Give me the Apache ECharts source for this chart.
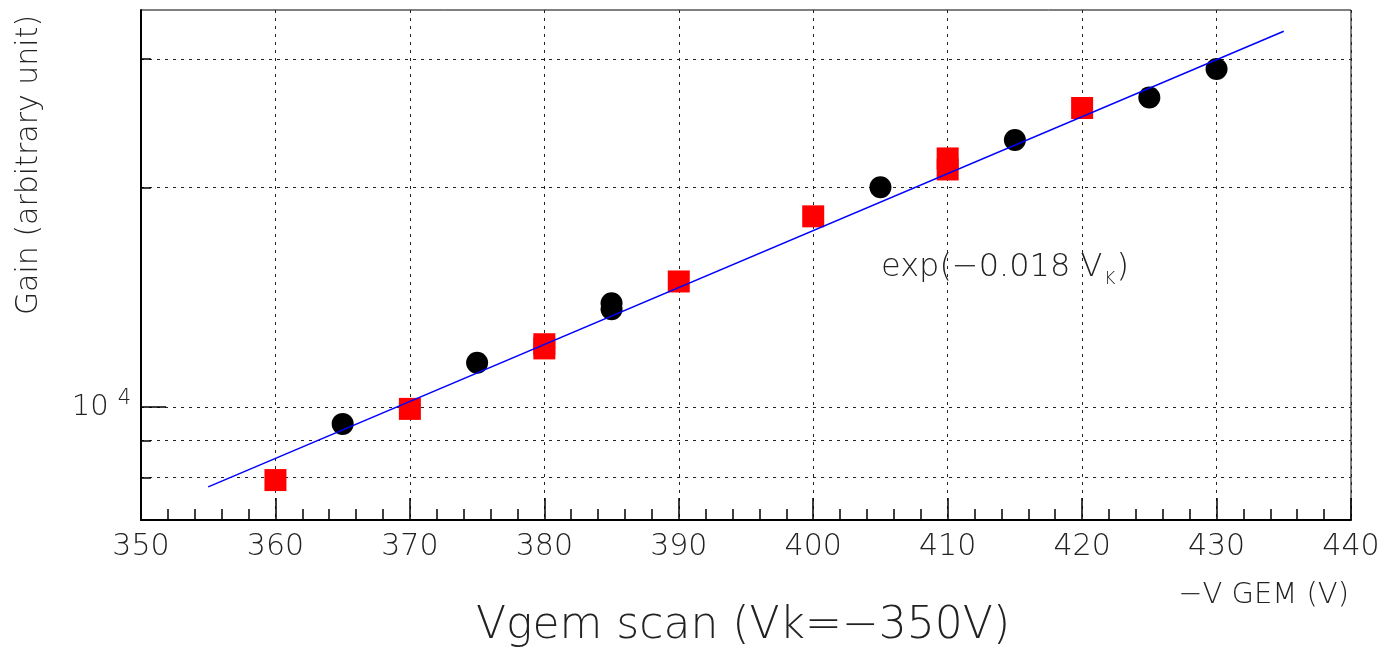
<!DOCTYPE html>
<html>
<head>
<meta charset="utf-8">
<title>Vgem scan</title>
<script src="https://cdn.jsdelivr.net/npm/echarts@6/dist/echarts.min.js"></script>
<style>
  html, body { margin: 0; padding: 0; background: #fff; }
  #chart { width: 1394px; height: 653px; }
</style>
</head>
<body>
<div id="chart"></div>
<script>
// gain vs GEM voltage, two runs (black circles, red squares) + exp fit
const blackX = [365, 375, 385, 385, 405, 415, 425, 430];
const blackY = [9480, 11500, 13870, 13610, 20000, 23220, 26560, 29060];

const redX = [360, 370, 380, 380, 390, 400, 410, 410, 420];
const redY = [7940, 9940, 12190, 12030, 14860, 18250, 21910, 21160, 25690];

// fit line exp(-0.018 Vk), end points
const fitX = [355, 435];
const fitY = [7770, 32730];

const xTicks = [350, 360, 370, 380, 390, 400, 410, 420, 430, 440];
const yMajorTicks = [10000];
const yMinorTicks = [8000, 9000, 20000, 30000];

const FONT = 'DejaVu Sans';
const WEIGHT = 200;
const TXT = '#222';
const pairs = (xs, ys) => xs.map((x, i) => [x, ys[i]]);

const chart = echarts.init(document.getElementById('chart'));

const gridLine = { show: true, lineStyle: { color: '#222', width: 1, type: [3, 5] } };

const options = {
  animation: false,
  grid: {
    left: 141,
    right: 43,
    top: 10,
    bottom: 133,
    show: true,
    borderColor: '#000',
    borderWidth: 1,
  },
  xAxis: {
    type: 'value',
    min: xTicks[0],
    max: xTicks[xTicks.length - 1],
    interval: 10,
    axisLine: { lineStyle: { color: '#000', width: 2 } },
    axisTick: { inside: true, length: 22, lineStyle: { color: '#000', width: 1.5 } },
    minorTick: { show: true, splitNumber: 5, length: 11, lineStyle: { color: '#000', width: 1.5 } },
    axisLabel: { fontFamily: FONT, fontWeight: WEIGHT, fontSize: 30, color: TXT, margin: 12 },
    splitLine: gridLine,
  },
  yAxis: [
    {
      // 10^4 tick with label
      type: 'log',
      logBase: 10,
      min: 7000,
      max: 35000,
      position: 'left',
      axisLine: { show: true, lineStyle: { color: '#000', width: 2 } },
      axisTick: { inside: true, length: 25, customValues: yMajorTicks, lineStyle: { color: '#000', width: 1.5 } },
      axisLabel: {
        customValues: yMajorTicks,
        margin: 10,
        formatter: v => '{b|' + '10' + '}{s|' + Math.round(Math.log10(v)) + '}',
        rich: {
          b: { fontFamily: FONT, fontWeight: WEIGHT, fontSize: 29, color: TXT, lineHeight: 30, verticalAlign: 'middle' },
          s: { fontFamily: FONT, fontWeight: WEIGHT, fontSize: 21, color: TXT, lineHeight: 22, padding: [0, 0, 16, 9], verticalAlign: 'middle' },
        },
      },
      splitLine: gridLine,
    },
    {
      // small ticks 8000, 9000, 2x10^4, 3x10^4
      type: 'log',
      logBase: 10,
      min: 7000,
      max: 35000,
      position: 'left',
      axisLine: { show: false },
      axisTick: { inside: true, length: 10, customValues: yMinorTicks, lineStyle: { color: '#000', width: 1.5 } },
      axisLabel: { show: false },
      splitLine: gridLine,
    },
  ],
  graphic: [
    {
      type: 'text',
      x: 29,
      y: 165,
      rotation: Math.PI / 2,
      style: {
        text: 'Gain (arbitrary unit)',
        fontFamily: FONT,
        fontWeight: WEIGHT,
        fontSize: 30,
        fill: TXT,
        align: 'center',
        verticalAlign: 'middle',
      },
    },
    {
      type: 'text',
      x: 1349,
      y: 595,
      style: {
        text: '−V GEM (V)',
        fontFamily: FONT,
        fontWeight: WEIGHT,
        fontSize: 29,
        fill: TXT,
        align: 'right',
        verticalAlign: 'middle',
      },
    },
    {
      type: 'text',
      x: 743,
      y: 627,
      style: {
        text: 'Vgem scan (Vk=−350V)',
        fontFamily: FONT,
        fontWeight: WEIGHT,
        fontSize: 44,
        fill: TXT,
        align: 'center',
        verticalAlign: 'middle',
      },
    },
    {
      type: 'text',
      x: 881,
      y: 268,
      z: 10,
      style: {
        text: '{n|exp(−0.018 V}{k|K}{n|)}',
        align: 'left',
        verticalAlign: 'middle',
        rich: {
          n: { fontFamily: FONT, fontWeight: WEIGHT, fontSize: 32, fill: TXT, lineHeight: 34, verticalAlign: 'middle' },
          k: { fontFamily: FONT, fontWeight: WEIGHT, fontSize: 17, fill: TXT, lineHeight: 18, padding: [24, 1, 0, 2], verticalAlign: 'middle' },
        },
      },
    },
  ],
  series: [
    {
      name: 'black',
      type: 'scatter',
      data: pairs(blackX, blackY),
      symbol: 'circle',
      symbolSize: 22,
      itemStyle: { color: '#000', opacity: 1 },
      z: 3,
    },
    {
      name: 'red',
      type: 'scatter',
      data: pairs(redX, redY),
      symbol: 'rect',
      symbolSize: 22,
      itemStyle: { color: '#ff0000', opacity: 1 },
      z: 3,
    },
    {
      name: 'fit',
      type: 'line',
      data: pairs(fitX, fitY),
      showSymbol: false,
      symbol: 'none',
      lineStyle: { color: '#0000ff', width: 1.5 },
      z: 5,
    },
  ],
};

chart.setOption(options);
</script>
</body>
</html>
